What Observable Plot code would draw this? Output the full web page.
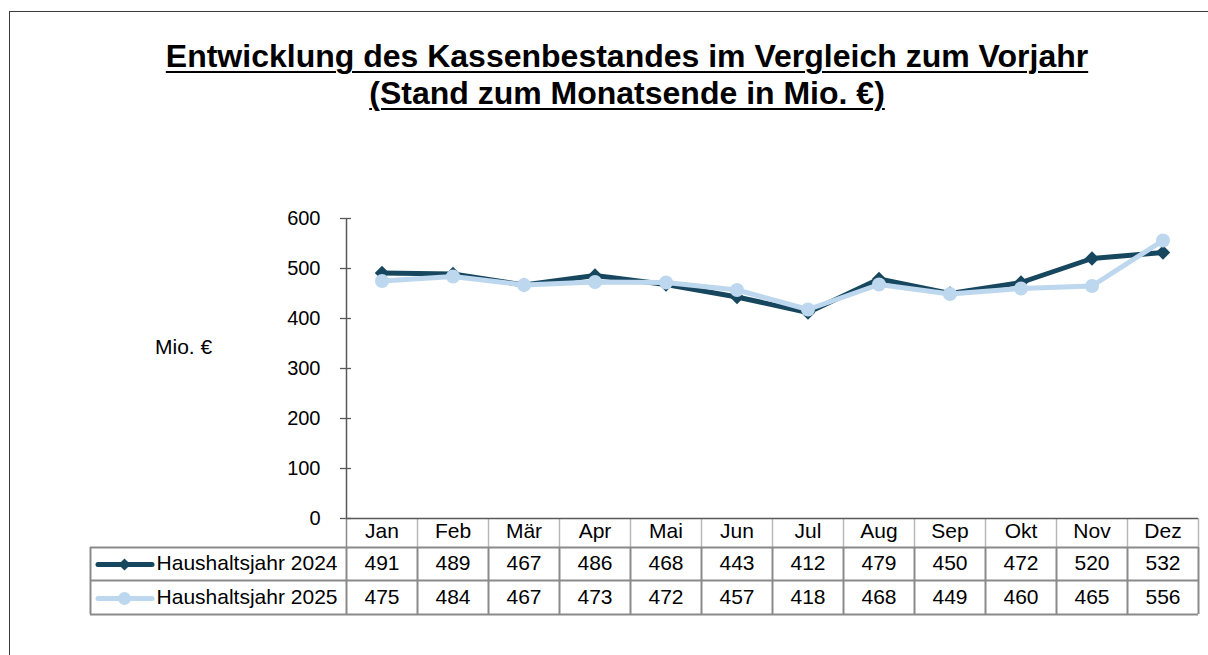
<!DOCTYPE html>
<html>
<head>
<meta charset="utf-8">
<script src="https://cdn.jsdelivr.net/npm/d3@7"></script>
<script src="https://cdn.jsdelivr.net/npm/@observablehq/plot@0.6"></script>
<style>
  html, body { margin: 0; padding: 0; background: #fff; overflow: hidden; }
  #wrap { position: relative; width: 1208px; height: 655px; overflow: hidden; font-family: "Liberation Sans", Arial, sans-serif; }
  #frame { position: absolute; left: 9px; top: 11px; width: 3000px; height: 3000px; border-left: 1px solid #3a3a3a; border-top: 1px solid #3a3a3a; }
  #title { position: absolute; left: 0; top: 38px; width: 1254px; text-align: center; font-weight: bold; font-size: 32px; line-height: 37px; text-decoration: underline; text-decoration-thickness: 2px; text-underline-offset: 4px; color: #000; }
  #unit { position: absolute; left: 155px; top: 335px; font-size: 21px; color: #000; }
  #chart { position: absolute; left: 0; top: 0; }
</style>
</head>
<body>
<div id="wrap">
  <div id="frame"></div>
  <div id="title">Entwicklung des Kassenbestandes im Vergleich zum Vorjahr<br>(Stand zum Monatsende in Mio. €)</div>
  <div id="unit">Mio. €</div>
  <div id="chart"></div>
</div>
<script>
const months = ["Jan","Feb","Mär","Apr","Mai","Jun","Jul","Aug","Sep","Okt","Nov","Dez"];
const series = ["Haushaltsjahr 2024", "Haushaltsjahr 2025"];
const v2024 = [491,489,467,486,468,443,412,479,450,472,520,532];
const v2025 = [475,484,467,473,472,457,418,468,449,460,465,556];
const yTicks = [0,100,200,300,400,500,600];

const dark = "#17475f";
const light = "#bdd7ee";
const gridDark = "#8a8a8a";
const gridLight = "#b8b8b8";
const axisCol = "#595959";

const bounds = [-0.5, ...months.map((m, i) => i + 0.5)];

const chart = Plot.plot({
  width: 1208,
  height: 655,
  marginLeft: 346,
  marginRight: 10,
  marginTop: 218,
  marginBottom: 137,
  x: { domain: [-0.5, months.length - 0.5], axis: null },
  y: { domain: [0, 600], axis: null },
  style: { fontFamily: "'Liberation Sans', Arial, sans-serif", fontSize: "21px", background: "transparent", overflow: "visible" },
  marks: [
    // y axis labels
    Plot.axisY({ ticks: yTicks, tickSize: 0, tickPadding: 26, fontSize: 20, fill: "#000" }),
    // cross tick marks
    Plot.ruleY(yTicks, { stroke: axisCol, strokeWidth: 1.3, insetLeft: -6, insetRight: 847 }),
    // axis lines
    Plot.ruleX([-0.5], { stroke: axisCol, strokeWidth: 1.5 }),
    // table: header separators
    Plot.ruleX(bounds.slice(1), { stroke: gridLight, strokeWidth: 1.5, insetTop: 300, insetBottom: -29 }),
    // table: row separators
    Plot.ruleX(bounds, { stroke: gridDark, strokeWidth: 2, insetTop: 329, insetBottom: -96 }),
    Plot.ruleX([-0.5], { stroke: gridDark, strokeWidth: 1.5, insetTop: 300, insetBottom: -29 }),
    Plot.ruleX([-0.5], { stroke: gridDark, strokeWidth: 2, dx: -256, insetTop: 329, insetBottom: -96 }),
    Plot.ruleY([0], { stroke: gridDark, strokeWidth: 2, dy: 29, insetLeft: -256 }),
    Plot.ruleY([0], { stroke: gridDark, strokeWidth: 2, dy: 62, insetLeft: -256 }),
    Plot.ruleY([0], { stroke: gridDark, strokeWidth: 2, dy: 96, insetLeft: -256 }),
    Plot.ruleY([0], { stroke: axisCol, strokeWidth: 1.5 }),
    // table text
    Plot.text(months, { x: (d, i) => i, text: d => d, frameAnchor: "bottom", dy: 19, fill: "#000" }),
    Plot.text(v2024, { x: (d, i) => i, text: d => d, frameAnchor: "bottom", dy: 51, fill: "#000" }),
    Plot.text(v2025, { x: (d, i) => i, text: d => d, frameAnchor: "bottom", dy: 85, fill: "#000" }),
    // legend
    Plot.text([series[0]], { text: d => d, frameAnchor: "bottom-left", dx: -9, dy: 51, textAnchor: "end", fill: "#000" }),
    Plot.text([series[1]], { text: d => d, frameAnchor: "bottom-left", dx: -9, dy: 85, textAnchor: "end", fill: "#000" }),
    Plot.ruleY([0], { stroke: dark, strokeWidth: 5, strokeLinecap: "round", dy: 46, insetLeft: -248, insetRight: 1046 }),
    Plot.dot([0], { frameAnchor: "bottom-left", dx: -222, dy: 46, symbol: "diamond2", r: 5.5, fill: dark, stroke: "none" }),
    Plot.ruleY([0], { stroke: light, strokeWidth: 5, strokeLinecap: "round", dy: 80, insetLeft: -248, insetRight: 1046 }),
    Plot.dot([0], { frameAnchor: "bottom-left", dx: -222, dy: 80, symbol: "circle", r: 6.5, fill: light, stroke: "none" }),
    // series 2024
    Plot.line(v2024, { x: (d, i) => i, y: d => d, stroke: dark, strokeWidth: 5 }),
    Plot.dot(v2024, { x: (d, i) => i, y: d => d, symbol: "diamond2", r: 6.5, fill: dark, stroke: "none" }),
    // series 2025
    Plot.line(v2025, { x: (d, i) => i, y: d => d, stroke: light, strokeWidth: 5 }),
    Plot.dot(v2025, { x: (d, i) => i, y: d => d, symbol: "circle", r: 7, fill: light, stroke: "none" })
  ]
});
document.getElementById("chart").appendChild(chart);
</script>
</body>
</html>
